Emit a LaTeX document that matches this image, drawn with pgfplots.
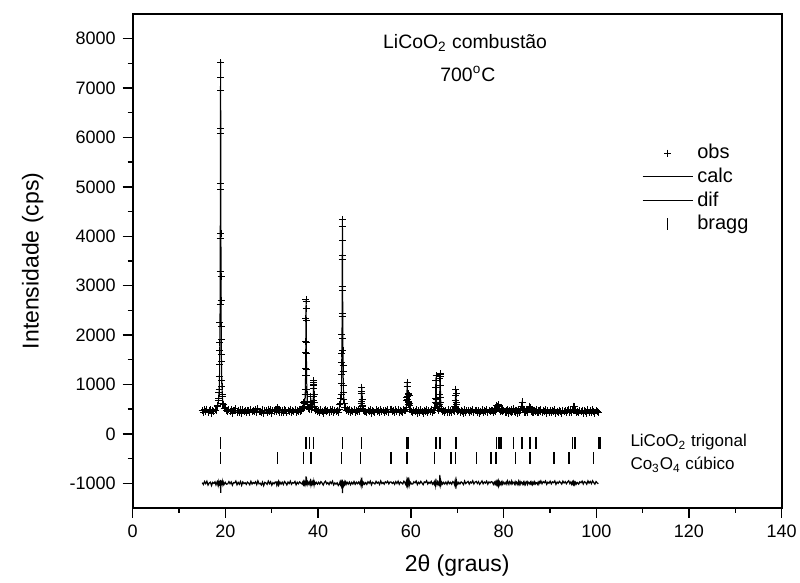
\documentclass[border=0pt]{standalone}
\usepackage{fontspec}
\setmainfont{Liberation Sans}
\usepackage{pgfplots}
\pgfplotsset{compat=1.18}
\usepackage{pgfplotstable}

% x, observed counts, calculated profile
\pgfplotstableread[row sep=\\]{
x obs calc\\
15.00 474 462\\ 15.25 437 462\\ 15.50 496 462\\ 15.75 454 462\\ 16.00 503 462\\ 16.25 425 462\\
16.50 467 462\\ 16.75 484 462\\ 17.00 416 462\\ 17.25 480 462\\ 17.50 459 462\\ 17.75 491 462\\
17.96 475 507\\ 18.21 570 542\\ 18.36 561 586\\ 18.46 668 640\\ 18.56 711 735\\ 18.61 842 815\\
18.66 905 933\\ 18.71 1160 1122\\ 18.76 1410 1442\\ 18.78 1680 1634\\ 18.80 1850 1882\\ 18.82 2250 2209\\
18.84 2610 2649\\ 18.86 3290 3231\\ 18.88 3960 4012\\ 18.90 5060 5006\\ 18.92 6090 6142\\ 18.94 7210 7143\\
18.96 7510 7562\\ 18.98 6950 7143\\ 19.00 6190 6142\\ 19.02 4950 5006\\ 19.04 4060 4012\\ 19.06 3180 3231\\
19.08 2700 2649\\ 19.10 2170 2209\\ 19.12 1920 1882\\ 19.14 1600 1634\\ 19.16 1470 1442\\ 19.21 1090 1122\\
19.26 960 933\\ 19.31 790 815\\ 19.36 760 735\\ 19.46 615 640\\ 19.56 604 586\\ 19.71 520 542\\
19.96 526 507\\ 20.21 472 491\\
20.50 448 460\\ 20.75 494 460\\ 21.00 452 460\\ 21.25 487 460\\ 21.50 421 460\\ 21.75 473 460\\
22.00 466 460\\ 22.25 505 460\\ 22.50 431 460\\ 22.75 478 460\\ 23.00 440 460\\ 23.25 495 460\\
23.50 419 460\\ 23.75 486 460\\ 24.00 452 460\\ 24.25 471 460\\ 24.50 437 460\\ 24.75 482 460\\
25.00 463 460\\ 25.25 429 460\\ 25.50 498 460\\ 25.75 444 460\\ 26.00 475 460\\ 26.25 456 460\\
26.50 490 460\\ 26.75 433 460\\ 27.00 508 460\\ 27.25 448 460\\ 27.50 461 460\\ 27.75 425 460\\
28.00 484 460\\ 28.25 412 460\\ 28.50 479 460\\ 28.75 466 460\\ 29.00 438 460\\ 29.25 503 460\\
29.50 451 460\\ 29.75 490 460\\ 30.00 421 460\\ 30.25 471 460\\ 30.50 449 460\\ 30.75 485 460\\
30.95 489 467\\ 31.05 452 475\\ 31.15 520 492\\ 31.25 531 507\\ 31.35 470 492\\ 31.45 498 475\\
31.55 441 467\\ 31.75 486 461\\
32.00 440 457\\ 32.25 478 457\\ 32.50 431 457\\ 32.75 492 457\\ 33.00 465 457\\ 33.25 423 457\\
33.50 481 457\\ 33.75 450 457\\ 34.00 499 457\\ 34.25 437 457\\ 34.50 470 457\\ 34.75 458 457\\
35.00 494 457\\ 35.25 426 457\\ 35.50 476 457\\ 35.75 447 457\\ 36.00 485 457\\ 36.25 462 457\\
36.50 470 483\\ 36.65 521 503\\ 36.75 528 542\\ 36.85 631 605\\ 36.95 560 577\\ 37.05 612 590\\
37.15 660 678\\ 37.20 801 776\\ 37.24 890 915\\ 37.28 1190 1156\\ 37.30 1320 1342\\ 37.32 1640 1588\\
37.34 1870 1903\\ 37.36 2330 2263\\ 37.38 2720 2580\\ 37.40 2690 2712\\ 37.42 2540 2580\\ 37.44 2290 2264\\
37.46 1860 1904\\ 37.48 1620 1590\\ 37.50 1310 1343\\ 37.52 1180 1157\\ 37.56 890 913\\ 37.60 790 773\\
37.65 655 672\\ 37.75 598 576\\ 37.90 509 523\\ 38.05 530 507\\ 38.20 501 519\\ 38.30 604 579\\
38.35 640 661\\ 38.40 762 731\\ 38.45 648 661\\ 38.50 601 579\\ 38.60 503 521\\ 38.75 541 520\\
38.85 548 561\\ 38.92 680 654\\ 38.96 751 768\\ 39.00 980 947\\ 39.02 1010 1032\\ 39.04 1080 1066\\
39.06 1050 1031\\ 39.08 925 946\\ 39.12 790 766\\ 39.16 630 651\\ 39.25 561 540\\ 39.40 478 491\\
39.60 492 474\\ 39.85 449 467\\ 40.10 481 462\\
40.35 438 455\\ 40.60 489 456\\ 40.85 461 456\\ 41.10 420 456\\ 41.35 475 456\\ 41.60 497 456\\
41.85 443 456\\ 42.10 468 457\\ 42.35 430 457\\ 42.60 486 458\\ 42.85 452 458\\ 43.10 501 459\\
43.35 427 461\\ 43.60 470 463\\ 43.85 449 467\\ 44.10 482 473\\ 44.35 440 485\\
44.55 497 514\\ 44.70 590 568\\ 44.80 621 638\\ 44.90 712 688\\ 44.99 805 828\\ 45.04 1030 1000\\
45.08 1210 1238\\ 45.10 1450 1417\\ 45.12 1630 1657\\ 45.14 2010 1976\\ 45.16 2370 2403\\ 45.18 2990 2947\\
45.20 3530 3569\\ 45.22 4190 4118\\ 45.24 4340 4347\\ 45.26 3920 4118\\ 45.28 3610 3569\\ 45.30 2900 2947\\
45.32 2440 2402\\ 45.34 1940 1974\\ 45.36 1690 1655\\ 45.38 1380 1413\\ 45.40 1260 1234\\ 45.44 970 993\\
45.49 842 817\\ 45.54 690 714\\ 45.64 624 605\\ 45.74 531 552\\ 45.89 538 513\\ 46.04 470 493\\
46.24 501 479\\
46.49 452 470\\ 46.74 489 465\\ 46.99 431 462\\ 47.24 478 460\\ 47.49 444 460\\ 47.74 495 460\\
47.99 437 459\\ 48.24 481 460\\ 48.49 452 461\\ 48.74 490 465\\
48.95 462 475\\ 49.10 521 497\\ 49.20 519 540\\ 49.25 610 588\\ 49.30 661 680\\ 49.35 860 838\\
49.40 945 956\\ 49.45 815 838\\ 49.50 702 680\\ 49.55 571 588\\ 49.60 556 540\\ 49.70 482 497\\
49.85 490 475\\ 50.00 447 466\\
50.25 462 450\\ 50.50 427 450\\ 50.75 481 450\\ 51.00 449 450\\ 51.25 493 450\\ 51.50 418 450\\
51.75 470 450\\ 52.00 455 450\\ 52.25 436 450\\ 52.50 488 450\\ 52.75 451 450\\ 53.00 472 450\\
53.25 425 450\\ 53.50 497 450\\ 53.75 444 450\\ 54.00 466 450\\ 54.25 431 450\\ 54.50 479 450\\
54.75 458 450\\ 55.00 490 450\\ 55.25 437 450\\ 55.50 486 461\\ 55.75 502 477\\ 56.00 451 456\\
56.25 474 452\\ 56.50 428 450\\ 56.75 483 450\\ 57.00 446 450\\ 57.25 492 450\\ 57.50 430 450\\
57.75 475 450\\ 58.00 459 450\\ 58.25 441 454\\ 58.50 498 457\\
58.70 482 467\\ 58.85 463 481\\ 58.97 530 511\\ 59.04 541 555\\ 59.10 668 641\\ 59.14 735 756\\
59.18 962 935\\ 59.22 1040 1056\\ 59.26 958 943\\ 59.30 752 771\\ 59.34 690 667\\ 59.40 588 605\\
59.46 640 617\\ 59.50 651 670\\ 59.54 790 765\\ 59.58 810 828\\ 59.62 771 753\\ 59.66 625 644\\
59.72 570 551\\ 59.80 488 502\\ 59.95 491 473\\ 60.15 446 461\\
60.40 430 447\\ 60.65 478 447\\ 60.90 455 447\\ 61.15 492 447\\ 61.40 421 447\\ 61.65 466 447\\
61.90 440 447\\ 62.15 485 447\\ 62.40 452 447\\ 62.65 418 447\\ 62.90 474 447\\ 63.15 461 447\\
63.40 497 447\\ 63.65 433 448\\ 63.90 470 449\\ 64.15 448 450\\ 64.40 489 451\\ 64.65 437 455\\
64.85 478 466\\ 65.00 470 485\\ 65.10 541 519\\ 65.20 536 553\\ 65.28 630 606\\ 65.34 712 734\\
65.38 930 907\\ 65.42 1090 1117\\ 65.44 1180 1157\\ 65.46 1090 1116\\ 65.50 930 906\\ 65.54 705 731\\
65.60 620 599\\ 65.68 512 530\\ 65.80 521 499\\ 65.95 480 499\\ 66.08 559 536\\ 66.16 598 612\\
66.22 790 758\\ 66.26 1120 953\\ 66.30 1210 1187\\ 66.32 1215 1233\\ 66.34 1170 1187\\ 66.38 975 951\\
66.42 740 756\\ 66.48 631 607\\ 66.56 510 529\\ 66.68 503 487\\ 66.85 451 467\\ 67.05 476 458\\
67.30 440 454\\
67.55 473 451\\ 67.80 428 450\\ 68.05 487 450\\ 68.30 441 450\\ 68.55 469 450\\ 68.80 433 452\\
69.05 490 456\\
69.25 481 464\\ 69.40 462 484\\ 69.50 547 523\\ 69.55 552 566\\ 69.60 675 648\\ 69.65 770 791\\
69.70 905 897\\ 69.75 812 791\\ 69.80 630 648\\ 69.85 590 566\\ 69.90 505 523\\ 70.00 498 484\\
70.15 446 464\\ 70.35 470 452\\
70.60 431 444\\ 70.85 472 444\\ 71.10 455 444\\ 71.35 418 444\\ 71.60 489 444\\ 71.85 437 444\\
72.10 463 444\\ 72.35 481 444\\ 72.60 426 444\\ 72.85 470 444\\ 73.10 449 444\\ 73.35 494 444\\
73.60 430 444\\ 73.85 466 444\\ 74.10 481 444\\ 74.35 439 444\\ 74.60 476 444\\ 74.85 422 444\\
75.10 458 444\\ 75.35 491 444\\ 75.60 433 444\\ 75.85 469 444\\ 76.10 447 444\\ 76.35 486 444\\
76.60 426 444\\ 76.85 471 444\\ 77.10 452 446\\ 77.35 480 447\\
77.60 471 450\\ 77.80 430 452\\ 78.00 479 458\\ 78.15 452 468\\ 78.30 515 491\\ 78.40 508 523\\
78.50 576 550\\ 78.60 519 535\\ 78.70 548 521\\ 78.80 512 533\\ 78.90 590 563\\ 78.95 551 568\\
79.00 580 559\\ 79.10 498 519\\ 79.20 510 492\\ 79.35 460 478\\ 79.50 503 487\\ 79.60 478 494\\
79.70 509 482\\ 79.85 447 463\\ 80.05 472 450\\ 80.30 428 446\\
80.55 465 442\\ 80.70 427 442\\ 80.85 488 442\\ 81.00 450 442\\ 81.15 419 442\\ 81.30 476 443\\
81.45 461 444\\ 81.60 432 445\\ 81.75 490 447\\ 81.90 446 452\\ 82.05 489 467\\ 82.20 510 493\\
82.35 452 468\\ 82.50 480 453\\ 82.65 431 449\\ 82.80 472 447\\ 82.95 455 447\\ 83.10 421 448\\
83.25 487 450\\ 83.40 438 454\\ 83.55 492 461\\ 83.70 466 480\\ 83.85 561 537\\ 84.00 645 632\\
84.15 518 538\\ 84.30 503 481\\ 84.45 440 462\\ 84.60 478 455\\ 84.75 431 452\\ 84.90 470 451\\
85.05 489 452\\ 85.20 438 457\\ 85.35 491 469\\ 85.50 522 508\\ 85.65 560 573\\ 85.80 530 508\\
85.95 451 469\\ 86.10 479 456\\ 86.25 428 451\\ 86.40 467 449\\ 86.55 436 449\\ 86.70 481 452\\
86.85 452 464\\ 87.00 497 483\\ 87.15 470 462\\ 87.30 431 450\\ 87.45 468 446\\ 87.60 425 444\\
87.75 472 443\\ 87.90 451 442\\ 88.05 489 442\\
88.30 430 441\\ 88.55 474 441\\ 88.80 452 441\\ 89.05 488 441\\ 89.30 419 441\\ 89.55 463 441\\
89.80 441 441\\ 90.05 479 438\\ 90.30 425 438\\ 90.55 466 438\\ 90.80 450 438\\ 91.05 485 438\\
91.30 416 438\\ 91.55 460 438\\ 91.80 437 438\\ 92.05 476 438\\ 92.30 452 438\\ 92.55 420 438\\
92.80 481 438\\ 93.05 444 438\\ 93.30 470 438\\ 93.55 428 438\\ 93.80 463 438\\ 94.05 491 441\\
94.30 436 443\\
94.50 470 446\\ 94.70 431 452\\ 94.85 489 464\\ 95.00 478 494\\ 95.10 561 536\\ 95.20 552 568\\
95.30 549 536\\ 95.40 470 494\\ 95.55 482 464\\ 95.70 437 452\\ 95.90 461 446\\ 96.20 425 442\\
96.45 466 438\\ 96.70 449 438\\ 96.95 481 438\\ 97.20 422 438\\ 97.45 470 438\\ 97.70 455 438\\
97.95 418 438\\ 98.20 486 438\\ 98.45 441 438\\ 98.70 474 438\\ 98.95 430 438\\ 99.20 488 438\\
99.45 452 438\\ 99.70 420 438\\ 99.95 472 438\\ 100.20 446 438\\ 100.45 427 438\\
}\xrd

% Bragg reflections, LiCoO2 (trigonal)
\pgfplotstableread[row sep=\\]{
x y\\
19.0 -190\\ 37.4 -190\\ 38.1 -190\\ 39.0 -190\\ 45.2 -190\\ 49.4 -190\\ 59.1 -190\\ 59.4 -190\\
65.4 -190\\ 66.3 -190\\ 69.7 -190\\ 78.5 -190\\ 78.9 -190\\ 79.2 -190\\ 79.6 -190\\ 82.2 -190\\
84.0 -190\\ 85.7 -190\\ 87.0 -190\\ 94.9 -190\\ 95.4 -190\\ 100.6 -190\\ 100.8 -190\\
}\braggA

% Bragg reflections, Co3O4 (cubic)
\pgfplotstableread[row sep=\\]{
x y\\
19.0 -490\\ 31.2 -490\\ 36.9 -490\\ 38.5 -490\\ 45.1 -490\\ 49.2 -490\\ 55.7 -490\\ 59.2 -490\\
65.1 -490\\ 68.7 -490\\ 69.6 -490\\ 74.2 -490\\ 77.3 -490\\ 78.4 -490\\ 82.6 -490\\ 85.7 -490\\
90.9 -490\\ 94.1 -490\\ 99.4 -490\\
}\braggB

\begin{document}
\begin{tikzpicture}
\begin{axis}[
    scale only axis,
    width=324.5pt,
    height=247pt,
    xmin=0, xmax=140,
    ymin=-1500, ymax=8500,
    xtick={0,20,...,140},
    ytick={-1000,0,1000,...,8000},
    minor x tick num=1,
    minor y tick num=1,
    tick pos=left,
    tick align=outside,
    major tick length=5pt,
    minor tick length=2.5pt,
    every tick/.style={black, line width=0.7pt},
    axis line style={line width=1pt},
    ticklabel style={font=\fontsize{9}{10}\selectfont},
    /pgf/number format/assume math mode=true,
    /pgf/number format/1000 sep={},
    xlabel={2θ (graus)},
    ylabel={Intensidade (cps)},
    label style={font=\fontsize{11.5}{13}\selectfont},
    xlabel style={at={(axis description cs:0.5,-0.117)}, anchor=center},
    ylabel style={at={(axis description cs:-0.154,0.5)}, anchor=center},
    legend style={draw=none, fill=none, at={(axis description cs:0.775,0.753)},
        anchor=north west, font=\fontsize{10}{11}\selectfont, row sep=-0.9pt,
        cells={anchor=west}},
    legend image code/.code={\draw[mark repeat=2,mark phase=2,#1]
        plot coordinates {(0pt,0pt) (12.5pt,0pt) (25pt,0pt)};},
]
\addplot[only marks, mark=+, mark size=1.75pt, black, line width=0.45pt]
    table[x=x, y=obs] {\xrd};
\addlegendentry{obs}
\addplot[black, line width=0.5pt] table[x=x, y=calc] {\xrd};
\addlegendentry{calc}
\addplot[black, line width=0.6pt]
    table[x=x, y expr=\thisrow{obs}-\thisrow{calc}-1000] {\xrd};
\addlegendentry{dif}
\addplot[only marks, mark=|, mark size=2.9pt, line width=0.7pt] table[x=x, y=y] {\braggA};
\addlegendentry{bragg}
\addplot[only marks, mark=|, mark size=2.9pt, line width=0.7pt, forget plot]
    table[x=x, y=y] {\braggB};

\node[anchor=base, font=\fontsize{9.7}{11}\selectfont] at (axis cs:71.7,7810)
    {LiCoO\textsubscript{2} combustão};
\node[anchor=base, font=\fontsize{9.7}{11}\selectfont] at (axis cs:72.3,7140)
    {700\textsuperscript{o}C};
\node[anchor=base west, inner sep=0pt, font=\fontsize{8.5}{10}\selectfont] at (axis cs:107.3,-265)
    {LiCoO\textsubscript{2} trigonal};
\node[anchor=base west, inner sep=0pt, font=\fontsize{8.5}{10}\selectfont] at (axis cs:107.3,-731)
    {Co\textsubscript{3}O\textsubscript{4} cúbico};

\coordinate (bbA) at (rel axis cs:-0.2045,-0.1518);
\coordinate (bbB) at (rel axis cs:1.0282,1.0283);
\end{axis}
\pgfresetboundingbox
\path[use as bounding box] (bbA) rectangle (bbB);
\end{tikzpicture}
\end{document}
